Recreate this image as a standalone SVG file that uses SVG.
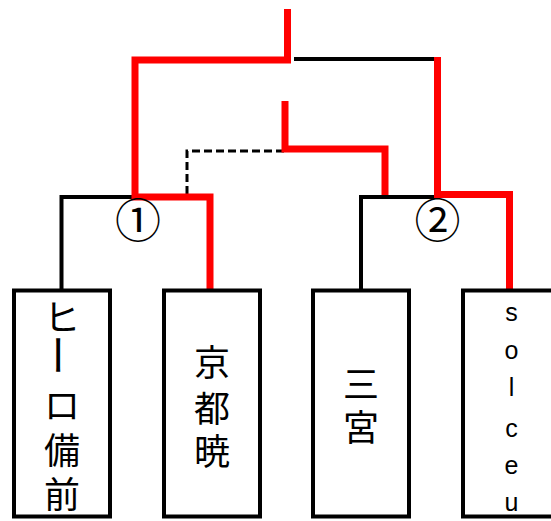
<svg xmlns="http://www.w3.org/2000/svg" width="551" height="521" viewBox="0 0 551 521">
<style>
.blk{fill:none;stroke:#000;stroke-width:4}
.red{fill:none;stroke:#ff0000;stroke-width:7;stroke-linejoin:miter}
.dash{fill:none;stroke:#000;stroke-width:3;stroke-dasharray:8 4}
.box{fill:#fff;stroke:#000;stroke-width:4}
.jp{font-family:"Noto Sans CJK JP","Noto Sans",sans-serif;font-size:36px;text-anchor:middle;dominant-baseline:central;fill:#000}
.vt{font-family:"Noto Sans CJK JP","Noto Sans",sans-serif;font-size:42px;text-anchor:middle;dominant-baseline:central;fill:#000}
.lat{font-family:"Liberation Sans",Arial,sans-serif;font-size:25px;text-anchor:middle;dominant-baseline:central;fill:#000}
.num{font-family:"Noto Sans CJK JP","DejaVu Sans",sans-serif;font-size:46px;text-anchor:middle;dominant-baseline:central;fill:#000}
</style>
<rect width="551" height="521" fill="#fff"/>
<g id="connectors">
<path class="blk" d="M294 59 H437"/>
<path class="blk" d="M61.5 290 V197 H135"/>
<path class="blk" d="M361 290 V197 H437"/>
<path class="dash" d="M187 194 V151 H286"/>
<path class="red" d="M287.5 9 V60 H135 V197 H210 V290"/>
<path class="red" d="M437.5 57 V194.5 H509.5 V290"/>
<path class="red" d="M285 101 V149 H385 V195"/>
</g>
<g id="label1"><text class="num" x="138" y="217">①</text></g>
<g id="label2"><text class="num" x="437.5" y="217">②</text></g>
<g id="node1">
<rect class="box" x="14" y="290.5" width="96" height="226"/>
<text class="jp" x="62" y="315">ヒ</text>
<text class="vt" transform="translate(60 355) rotate(90)">ー</text>
<text class="jp" x="62" y="403">ロ</text>
<text class="jp" x="62" y="448">備</text>
<text class="jp" x="62" y="492">前</text>
</g>
<g id="node2">
<rect class="box" x="164" y="290.5" width="96" height="226"/>
<text class="jp" x="212" y="360">京</text>
<text class="jp" x="212" y="406">都</text>
<text class="jp" x="212" y="449">暁</text>
</g>
<g id="node3">
<rect class="box" x="313" y="290.5" width="96" height="226"/>
<text class="jp" x="361" y="382">三</text>
<text class="jp" x="361" y="425">宮</text>
</g>
<g id="node4">
<rect class="box" x="463" y="290.5" width="100" height="226"/>
<text class="lat" x="511.5" y="312">s</text>
<text class="lat" x="511.5" y="350">o</text>
<text class="lat" x="511.5" y="387">l</text>
<text class="lat" x="511.5" y="428">c</text>
<text class="lat" x="511.5" y="465">e</text>
<text class="lat" x="511.5" y="502">u</text>
</g>
</svg>
